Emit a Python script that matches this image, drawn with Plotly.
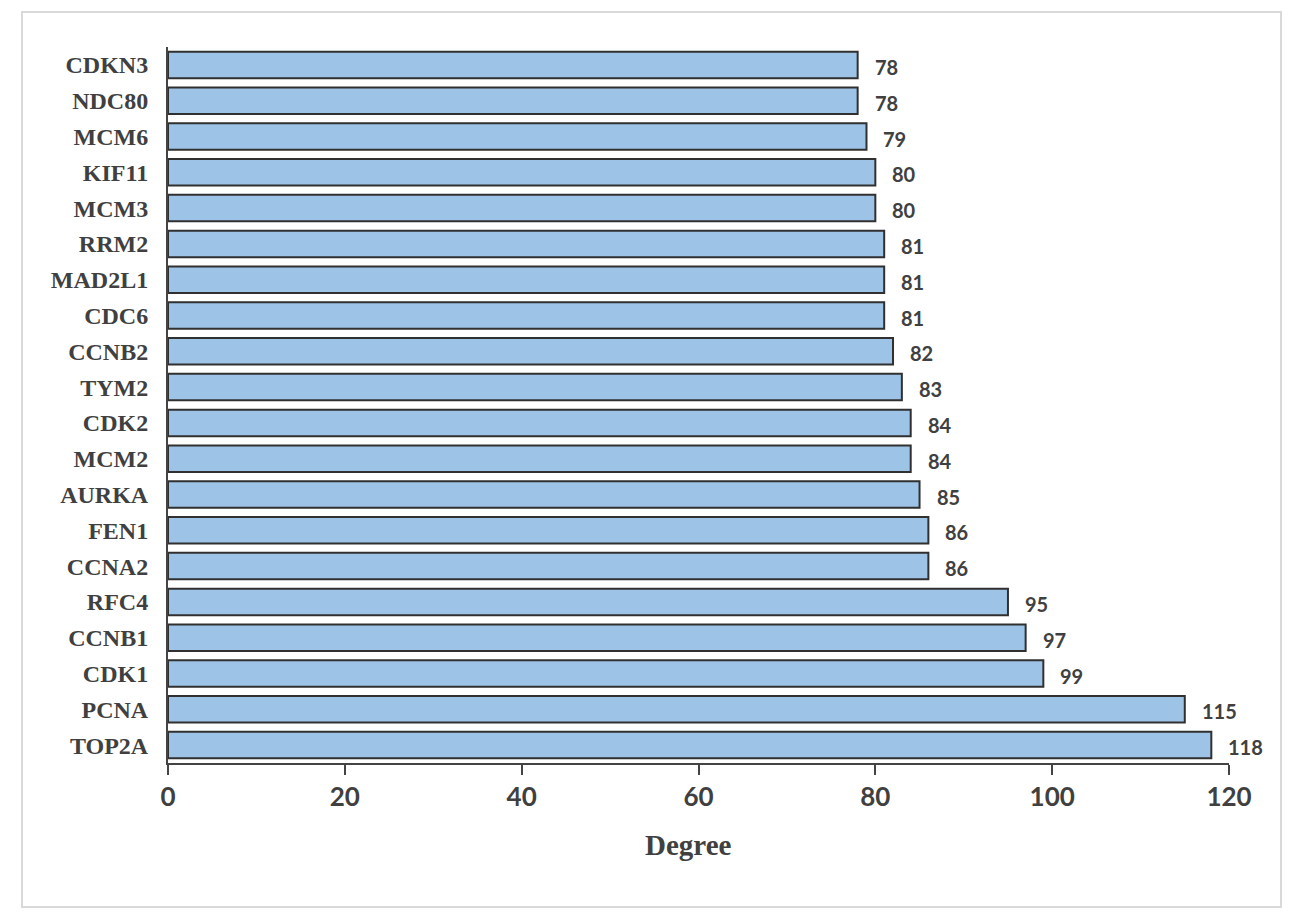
import plotly.graph_objects as go

genes = ["CDKN3", "NDC80", "MCM6", "KIF11", "MCM3", "RRM2", "MAD2L1", "CDC6", "CCNB2", "TYM2",
         "CDK2", "MCM2", "AURKA", "FEN1", "CCNA2", "RFC4", "CCNB1", "CDK1", "PCNA", "TOP2A"]
degree = [78, 78, 79, 80, 80, 81, 81, 81, 82, 83, 84, 84, 85, 86, 86, 95, 97, 99, 115, 118]
x_ticks = [0, 20, 40, 60, 80, 100, 120]

fig = go.Figure()
fig.add_trace(go.Bar(
    y=genes, x=degree, orientation="h",
    marker=dict(color="#9dc3e6", line=dict(color="#303030", width=2)),
    width=0.74, hoverinfo="x+y",
))

annotations = []
for g, v in zip(genes, degree):
    annotations.append(dict(
        x=v, y=g, xref="x", yref="y", text=str(v), showarrow=False,
        xanchor="left", yanchor="middle", xshift=15, yshift=-2,
        font=dict(family="Lato", size=20, color="#404040", weight="bold"),
    ))
annotations.append(dict(
    x=0.491, y=-0.09, xref="paper", yref="paper", text="Degree", showarrow=False,
    xanchor="center", yanchor="top",
    font=dict(family="Liberation Serif", size=29, color="#404040", weight="bold"),
))

fig.update_layout(
    width=1280, height=904,
    margin=dict(l=160, r=59, t=39, b=149),
    paper_bgcolor="white", plot_bgcolor="white",
    showlegend=False,
    annotations=annotations,
    xaxis=dict(
        range=[0, 120], tickvals=x_ticks, ticktext=[str(t) for t in x_ticks],
        showgrid=False, zeroline=False, showline=True, linecolor="#444444", linewidth=2,
        ticks="outside", ticklen=10, tickwidth=2, tickcolor="#444444",
        tickfont=dict(family="Lato", size=26, color="#404040", weight="bold"),
        fixedrange=True,
    ),
    yaxis=dict(
        categoryorder="array", categoryarray=genes, autorange="reversed",
        showgrid=False, zeroline=False, showline=True, linecolor="#444444", linewidth=2,
        ticks="", ticklabelstandoff=13,
        tickfont=dict(family="Liberation Serif", size=24, color="#404040", weight="bold"),
        fixedrange=True,
    ),
    shapes=[dict(
        type="rect", xref="paper", yref="paper",
        x0=-0.1376, x1=1.049, y0=-0.201, y1=1.0489,
        line=dict(color="#d9d9d9", width=2), fillcolor="rgba(0,0,0,0)", layer="below",
    )],
)

fig.write_html("out.html")
